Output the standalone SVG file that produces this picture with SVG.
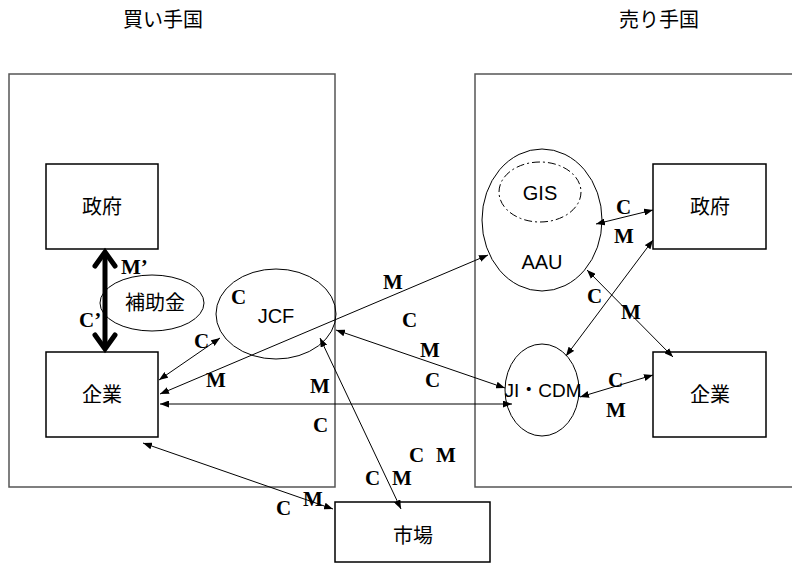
<svg xmlns="http://www.w3.org/2000/svg" width="792" height="563" viewBox="0 0 792 563">
<defs>
<style>
.country{fill:none;stroke:#555;stroke-width:1.5}
.box{fill:#fff;stroke:#000;stroke-width:1.5}
.ell{fill:none;stroke:#000;stroke-width:1}
.t{font-family:"Liberation Sans","Noto Sans CJK JP",sans-serif;font-size:20px;fill:#000;text-anchor:middle}
.lbl{font-family:"Liberation Serif",serif;font-weight:bold;font-size:21px;fill:#000}
.c{fill:none;stroke:#000;stroke-width:1;marker-start:url(#ah);marker-end:url(#ah)}
</style>
<marker id="ah" viewBox="0 0 10 10" refX="10" refY="5" markerWidth="9" markerHeight="7" markerUnits="userSpaceOnUse" orient="auto-start-reverse" preserveAspectRatio="none">
<path d="M0,0 L10,5 L0,10 z" fill="#000"/>
</marker>
</defs>
<rect width="792" height="563" fill="#fff"/>
<text class="t" x="163" y="27">買い手国</text>
<text class="t" x="659" y="27">売り手国</text>
<rect class="country" x="9" y="74" width="326" height="413"/>
<rect class="country" x="475" y="74" width="330" height="413"/>

<g id="gov-buyer"><rect class="box" x="46" y="164" width="112" height="85"/><text class="t" x="102" y="214">政府</text></g>
<g id="firm-buyer"><rect class="box" x="46" y="352" width="112" height="85"/><text class="t" x="102" y="402">企業</text></g>
<g id="subsidy"><ellipse class="ell" cx="152" cy="303" rx="52" ry="28"/><text class="t" x="155" y="310">補助金</text></g>
<g id="jcf"><ellipse class="ell" cx="276" cy="314" rx="60" ry="45"/><text class="t" x="276" y="323">JCF</text></g>
<g id="aau"><ellipse class="ell" cx="542" cy="220" rx="60" ry="71"/><text class="t" x="542" y="269">AAU</text></g>
<g id="gis"><ellipse class="ell" cx="540" cy="192" rx="41" ry="30" stroke-dasharray="8,3,2,3"/><text class="t" x="540" y="200">GIS</text></g>
<g id="gov-seller"><rect class="box" x="653" y="164" width="113" height="85"/><text class="t" x="710" y="214">政府</text></g>
<g id="firm-seller"><rect class="box" x="653" y="352" width="113" height="85"/><text class="t" x="710" y="402">企業</text></g>
<g id="jicdm"><ellipse class="ell" cx="542" cy="390" rx="37" ry="46"/><text class="t" x="543" y="397" style="font-size:19px">JI・CDM</text></g>
<g id="market"><rect class="box" x="335" y="502" width="155" height="60"/><text class="t" x="413" y="543">市場</text></g>

<g id="connectors">
<line x1="105" y1="252" x2="105" y2="349" stroke="#000" stroke-width="5"/>
<polyline points="95,266 105,252 115,266" fill="none" stroke="#000" stroke-width="5" stroke-linejoin="miter" stroke-linecap="round"/>
<polyline points="95,335 105,349 115,335" fill="none" stroke="#000" stroke-width="5" stroke-linejoin="miter" stroke-linecap="round"/>
<line class="c" x1="159" y1="380" x2="220" y2="338"/>
<line class="c" x1="160" y1="394" x2="488" y2="255"/>
<line class="c" x1="160" y1="404" x2="512" y2="404"/>
<line class="c" x1="336" y1="330" x2="505" y2="388"/>
<line class="c" x1="320" y1="338" x2="401" y2="509"/>
<line class="c" x1="143" y1="443" x2="333" y2="509"/>
<line class="c" x1="596" y1="224" x2="653" y2="210"/>
<line class="c" x1="653" y1="240" x2="566" y2="356"/>
<line class="c" x1="587" y1="270" x2="673" y2="357"/>
<line class="c" x1="580" y1="397" x2="653" y2="375"/>
</g>

<g id="labels">
<text class="lbl" x="121" y="274">M’</text>
<text class="lbl" x="79" y="327">C’</text>
<text class="lbl" x="231" y="304">C</text>
<text class="lbl" x="194" y="348">C</text>
<text class="lbl" x="206" y="387">M</text>
<text class="lbl" x="310" y="393">M</text>
<text class="lbl" x="313" y="432">C</text>
<text class="lbl" x="383" y="289">M</text>
<text class="lbl" x="402" y="327">C</text>
<text class="lbl" x="420" y="357">M</text>
<text class="lbl" x="425" y="387">C</text>
<text class="lbl" x="409" y="462">C</text>
<text class="lbl" x="436" y="462">M</text>
<text class="lbl" x="365" y="485">C</text>
<text class="lbl" x="392" y="485">M</text>
<text class="lbl" x="276" y="515">C</text>
<text class="lbl" x="303" y="506">M</text>
<text class="lbl" x="616" y="214">C</text>
<text class="lbl" x="614" y="243">M</text>
<text class="lbl" x="587" y="303">C</text>
<text class="lbl" x="621" y="319">M</text>
<text class="lbl" x="608" y="387">C</text>
<text class="lbl" x="606" y="417">M</text>
</g>
</svg>
